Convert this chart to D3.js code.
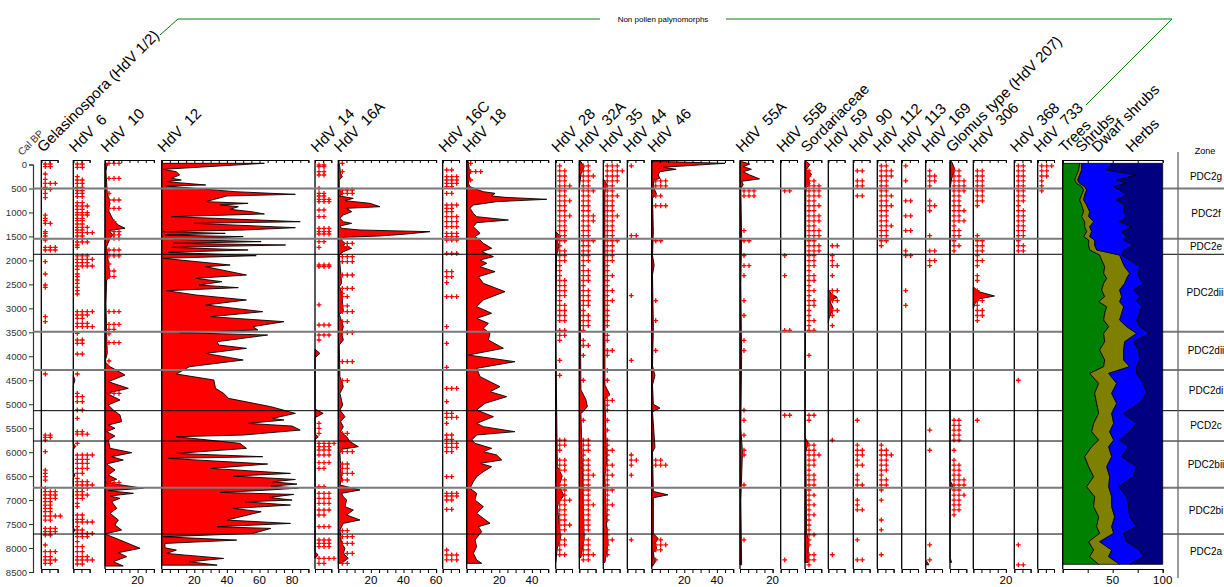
<!DOCTYPE html>
<html>
<head>
<meta charset="utf-8">
<script src="https://cdn.jsdelivr.net/npm/d3@7"></script>
<style>
  body { margin: 0; background: #fff; }
  svg { font-family: "Liberation Sans", Arial, sans-serif; }
</style>
</head>
<body>
<svg id="chart" width="1224" height="587"></svg>
<script>
// ---- zones (cal BP) ----
var zoneBounds = [500, 1550, 1873, 3487, 4287, 5135, 5768, 6742, 7708];
var zoneNames = ["PDC2g", "PDC2f", "PDC2e", "PDC2diii", "PDC2dii", "PDC2di", "PCD2c", "PDC2bii", "PDC2bi", "PDC2a"];
var depthTicks = d3.range(0, 8501, 500);

// ---- curves: [age, percent] ----
var hdv6Curve = [[4400,0],[4500,1],[4600,0],[5820,0],[5880,1.5],[5940,0],[6420,0],[6480,1],[6540,0],[7580,0],[7620,1],[7680,0]];
var hdv10Curve = [[-24,2],[45,1],[149,0.6],[601,1.4],[810,3.1],[949,2],[1158,5.1],[1262,8.2],[1331,12.3],[1380,2],[1470,5.1],[1540,3.1],[1714,1],[2340,3.1],[2409,1],[2896,0.6],[3522,1],[3939,1.4],[4113,0],[4217,3.1],[4391,12.3],[4530,2],[4669,14.3],[4773,1],[4912,9.2],[5016,2],[5121,5.1],[5225,9.2],[5364,10.2],[5434,2],[5503,6.1],[5573,1],[5663,6.1],[5747,2],[5920,3.1],[6011,16.4],[6094,4.1],[6164,11.2],[6247,1],[6372,6.1],[6477,2],[6567,7.2],[6637,1],[6755,23.5],[6803,2],[6859,17.4],[6915,3.1],[6963,9.2],[7033,4.1],[7172,7.2],[7276,3.1],[7415,8.2],[7520,6.1],[7624,10.2],[7707,0],[7833,9.2],[8006,21.5],[8097,8.2],[8180,13.3],[8284,5.1],[8375,11.2]];
var hdv12Curve = [[-25,63],[101,1],[150,9],[219,11],[288,6],[323,12],[358,3],[427,27],[448,3],[567,45],[601,67],[622,82],[657,40],[775,27],[810,53],[845,36],[880,47],[935,42],[984,55],[1032,63],[1088,6],[1123,33],[1193,85],[1227,20],[1318,82],[1366,51],[1401,1],[1436,39],[1471,2],[1505,50],[1561,7],[1609,61],[1644,7],[1679,76],[1728,6],[1783,53],[1832,4],[1902,58],[1957,1],[2096,42],[2131,27],[2305,52],[2375,21],[2444,37],[2514,23],[2569,47],[2632,3],[2722,21],[2826,52],[2930,27],[3070,62],[3174,30],[3278,75],[3382,56],[3452,59],[3508,11],[3557,65],[3696,34],[3766,35],[3835,52],[3940,27],[4078,50],[4218,17],[4370,9],[4495,32],[4669,33],[4773,38],[4878,41],[5052,67],[5191,82],[5296,68],[5330,75],[5400,53],[5456,80],[5540,85],[5643,50],[5678,9],[5817,48],[5921,52],[6026,9],[6095,62],[6130,4],[6248,65],[6339,30],[6443,79],[6500,44],[6570,82],[6618,68],[6667,83],[6709,67],[6750,84],[6792,65],[6840,36],[6882,81],[6945,66],[7000,80],[7035,51],[7104,79],[7174,44],[7243,61],[7417,40],[7487,79],[7556,34],[7591,67],[7695,56],[7765,1],[7835,46],[7904,2],[7995,2],[8043,9],[8113,3],[8217,38],[8287,17],[8357,34]];
var hdv14Curve = [[3850,0],[3940,3],[4030,0],[5100,0],[5190,5],[5280,0],[5620,0],[5680,2],[5740,0],[8080,0],[8145,2],[8210,0]];
var hdv16aCurve = [[-24,0.6],[184,1.4],[254,2.5],[323,0.6],[532,0.6],[601,3.1],[657,0.6],[706,9.2],[754,4.1],[810,19.4],[880,25.6],[914,5.1],[984,8.2],[1053,3.1],[1123,1],[1192,3.1],[1227,8.2],[1283,1],[1331,2],[1366,13.3],[1401,56.2],[1450,41.9],[1491,25.6],[1519,3.1],[1575,2],[1644,4.1],[1700,3.1],[1748,8.2],[1818,3.1],[1888,0.6],[2479,2],[2548,0.6],[2652,2],[3070,3.1],[3118,0.6],[3382,3.1],[3522,2],[3661,3.1],[3765,0.6],[4425,1],[4634,3.1],[4773,1],[5016,2.7],[5121,1],[5260,4.1],[5364,1.4],[5468,3.1],[5573,1.4],[5677,5.1],[5781,7.2],[5886,12.3],[5941,2],[6025,1],[6581,2],[6685,1],[6789,13.3],[6859,2],[6929,3.1],[6998,5.1],[7137,4.1],[7207,9.2],[7311,5.1],[7415,13.3],[7485,3.1],[7624,1],[7902,2],[8006,4.1],[8110,3.1],[8215,6.1],[8319,2]];
var hdv18Curve = [[-59,1],[115,1.6],[323,1.6],[393,1],[462,2],[532,7.2],[567,10.2],[601,17.4],[657,15.3],[685,23.5],[726,49.1],[775,18.4],[845,4.1],[914,2],[1018,4.1],[1088,6.1],[1158,25.6],[1213,6.1],[1297,4.1],[1366,6.1],[1436,8.2],[1505,5.1],[1575,8.2],[1644,10.2],[1748,15.3],[1818,9.2],[1922,16.4],[1992,8.2],[2061,12.3],[2131,8.2],[2235,17.4],[2340,7.2],[2479,10.2],[2652,23.5],[2826,10.2],[2965,6.1],[3104,15.3],[3209,6.1],[3313,13.3],[3417,10.2],[3522,14.3],[3661,13.3],[3834,22.5],[3974,1],[4113,29.6],[4252,6.1],[4425,8.2],[4634,20.4],[4738,14.3],[4843,24.5],[4982,11.2],[5121,6.1],[5260,16.4],[5399,6.1],[5468,10.2],[5573,29.6],[5642,6.1],[5746,3.1],[5816,5.1],[5920,15.3],[5990,10.2],[6059,18.4],[6164,21.5],[6233,8.2],[6303,15.3],[6407,10.2],[6511,6.1],[6616,4.1],[6755,2],[6859,6.1],[6998,5.1],[7137,10.2],[7276,6.1],[7380,10.2],[7485,14.3],[7554,7.2],[7659,9.2],[7832,5.1],[7971,6.1],[8110,4.1],[8249,6.1],[8319,9.2]];
var hdv28Curve = [[1400,0],[1500,3],[1600,1],[1700,2],[1900,0.5],[3500,0],[6300,1],[6500,4],[6700,2],[6900,5],[7100,1],[7800,3],[8000,1],[8300,0]];
var hdv32aCurve = [[-60,1],[50,3],[200,1],[500,0],[4700,1],[4900,4],[5050,5],[5200,1],[6500,2],[7800,3],[8200,1]];
var hdv35Curve = [[300,0],[400,2],[600,1],[4600,1],[4800,4],[4900,1],[6200,2],[6500,1],[7500,2],[7900,3],[8300,1]];
var hdv46Curve = [[-60,8],[-25,45],[58,7],[100,15],[150,5],[219,4],[288,5],[323,1.5],[463,1],[620,3],[700,0.5],[1400,1],[1900,0.5],[2100,1.5],[2300,0.5],[3400,1],[4200,0.5],[4400,2],[4600,0.5],[5000,1],[5080,5],[5160,0.5],[5900,2],[6000,0.5],[6820,1],[6890,10],[6950,1],[7700,1],[7800,4],[7900,2],[8000,3],[8100,1],[8300,2],[8380,0.5]];
var hdv55aCurve = [[-60,1],[-10,6],[45,2],[100,7],[150,2],[219,6],[300,12],[350,1],[420,2],[500,0.5],[1500,1],[2500,0.5],[4000,1],[5500,0.5],[6000,1.5],[7000,0.5],[8350,1]];
var sordCurve = [[-60,1],[0,3],[100,1],[200,4],[300,2],[400,3],[480,1],[600,0.5],[5700,0],[5800,2],[6000,0.5],[7700,1],[7800,2],[8300,2]];
var hdv59Curve = [[2600,0],[2700,2],[2770,5.5],[2850,1],[3000,3],[3200,0.5],[3300,0]];
var glomusCurve = [[-60,1],[100,3],[300,1],[500,0],[6600,0],[6700,2],[6800,0],[8200,0],[8300,1]];
var hdv169Curve = [[8250,0],[8350,2]];
var hdv306Curve = [[2550,0],[2650,3],[2743,13],[2800,4],[2900,1],[3000,0]];

// ---- "+" markers on listed ages: [age, count] ----
var gelasPlus = [[-10,2],[45,2],[198,1],[309,1],[393,3],[476,1],[518,2],[601,1],[692,1],[1054,1],[1123,1],[1172,1],[1227,2],[1401,1],[1436,1],[1491,1],[1575,1],[1728,3],[1783,3],[2027,1],[2284,1],[2514,1],[2563,1],[3175,1],[3279,1],[4370,1],[5643,2],[5692,2],[5748,1],[5991,1],[6373,1],[6443,1],[6512,1],[6582,1],[6755,1],[6825,3],[6894,3],[6964,3],[7033,2],[7103,2],[7172,2],[7242,2],[7332,4],[7416,2],[7590,3],[7659,3],[7728,2],[7937,1],[8076,3],[8181,2],[8250,3],[8320,2]];
var hdv6Plus = [[-10,2],[59,2],[254,1],[323,2],[393,2],[476,2],[546,2],[601,2],[671,2],[796,2],[866,3],[935,2],[1005,3],[1053,3],[1123,2],[1172,2],[1241,2],[1311,3],[1366,2],[1422,4],[1491,2],[1547,2],[1617,3],[1679,1],[1728,1],[1908,3],[1978,4],[2048,3],[2117,4],[2187,1],[2284,1],[2340,1],[2409,1],[2479,1],[2562,1],[2632,1],[2701,1],[3070,4],[3139,3],[3209,2],[3313,3],[3383,4],[3522,1],[3661,2],[3730,2],[3953,2],
  [4370,1],[4773,1],[4843,2],[4947,2],[5121,2],[5295,1],[5573,2],[5622,3],[5816,1],[6060,4],[6150,3],[6233,3],[6338,3],[6442,2],[6546,1],[6616,3],[6685,4],[6755,3],[6825,2],[6894,3],[6964,2],[7068,1],[7137,1],[7311,2],[7401,2],[7457,4],[7555,1],[7624,2],[7694,4],[7763,3],[7867,1],[7972,2],[8076,2],[8180,3],[8250,4],[8333,2]];
var hdv10Plus = [[-24,3],[288,3],[601,1],[740,3],[914,3],[1192,2],[1401,3],[1470,3],[1540,3],[1783,3],[1908,3],[2075,1],[2221,2],[2340,2],[3070,3],[3334,3],[3438,2],[3535,1],[3716,3],[4099,1],[4773,3],[6636,3]];
var hdv14Plus = [[10,2],[45,2],[149,2],[219,2],[497,1],[601,2],[657,2],[726,3],[775,3],[949,2],[1088,2],[1331,3],[1401,3],[1450,3],[1609,2],[1728,1],[2096,3],[2131,3],[2930,1],[3348,3],[3556,3],[3661,1],[5399,1],[5503,1],[5608,1],[5816,4],[5886,3],[5955,3],[6059,3],[6219,3],[6338,2],[6720,2],[6859,3],[6963,3],[7068,3],[7207,3],[7311,2],[7554,3],[7832,3],[7902,3],[7971,3],[8215,4],[8319,2]];
var hdv16aPlus = [[-24,1],[149,1],[532,3],[601,3],[1644,3],[1714,2],[1922,3],[2027,3],[2305,3],[2583,3],[2687,1],[2757,2],[2951,2],[3070,3],[3278,2],[3508,3],[4113,3],[4509,2],[5608,2],[5990,3],[6247,2],[6338,2],[6442,3],[6581,2],[7638,2],[7763,3],[7902,3],[8110,3],[8319,2]];
var hdv16cPlus = [[115,2],[254,3],[323,3],[393,3],[462,2],[601,2],[845,3],[914,2],[984,2],[1088,3],[1192,3],[1297,3],[1436,3],[1505,3],[1575,3],[1853,3],[2235,2],[2340,2],[2465,1],[2757,3],[3382,1],[3730,1],[4231,1],[4669,3],[4947,1],[5190,2],[5274,3],[5399,1],[5642,2],[5733,2],[5816,3],[5899,3],[5990,2],[6511,2],[6859,3],[6915,3],[6998,2],[7193,2],[8041,1],[8145,3],[8249,3]];
var hdv18Plus = [[-24,1],[149,3],[323,1]];

// ---- "+" markers on the regular sample rows ----
var sampleAges = [30,135,240,340,445,550,655,760,860,965,1070,1175,1280,1380,1485,1590,1695,1800,1900,2005,2110,2215,2320,2420,2525,2630,2735,2840,2940,3045,3150,3255,3360,3460,3565,3670,3775,3880,3980,4085,4190,4295,4400,4500,4605,4710,4815,4920,5020,5125,5230,5335,5440,5540,5645,5750,5855,5960,6060,6165,6270,6375,6480,6580,6685,6790,6895,7000,7100,7205,7310,7415,7520,7620,7725,7830,7935,8040,8140,8245,8350];
var hdv28Plus = [1,2,2,2,3,2,2,3,2,2,3,2,2,2,2,2,1,2,2,2,1,1,1,2,2,2,2,1,2,2,2,2,0,2,2,1,0,0,0,1,0,0,1,0,0,0,0,0,0,0,0,0,0,0,0,2,2,1,0,2,2,2,1,2,2,2,2,3,2,2,2,2,3,2,1,2,2,1,2,0,0];
var hdv32aPlus = [2,2,3,2,2,3,2,2,2,2,3,3,2,2,2,3,2,2,2,2,1,2,2,2,1,2,2,2,2,1,2,2,2,1,0,1,2,0,1,0,0,0,0,1,0,0,0,0,0,0,0,1,0,0,0,2,2,2,1,2,2,2,3,2,2,2,2,2,3,2,2,2,2,2,1,2,2,2,3,2,0];
var hdv35Plus = [3,4,3,3,2,2,3,2,2,2,3,2,2,2,2,3,2,2,2,2,1,1,2,1,1,2,1,2,1,1,1,1,1,0,1,1,0,2,1,0,0,1,0,1,0,0,1,2,1,1,0,1,0,1,0,1,1,2,1,1,2,1,2,1,1,2,1,1,2,1,1,1,0,1,1,2,1,1,1,0,0];
var hdv44Plus = [1,0,0,0,0,0,0,0,0,0,0,0,0,0,2,0,0,0,0,0,0,0,0,0,0,0,1,0,0,0,0,0,0,0,0,0,0,0,0,1,0,0,0,0,0,0,0,0,0,0,0,0,0,0,0,0,0,0,1,2,1,0,1,0,0,0,0,0,0,0,0,0,0,0,0,1,0,0,0,0,0];
var hdv46Plus = [0,0,0,3,3,0,2,0,3,0,0,0,0,0,0,2,0,0,0,0,0,0,0,0,0,0,0,1,0,0,0,1,0,0,0,0,0,1,0,0,0,0,0,0,0,0,0,0,0,0,0,0,0,0,0,0,0,0,0,2,3,0,0,0,0,0,0,0,0,0,0,0,0,0,0,2,3,2,0,1,0];
var hdv55aPlus = [0,0,0,0,0,3,3,0,0,0,0,0,0,1,0,2,0,0,1,0,2,0,1,0,0,0,0,1,0,0,1,0,0,0,0,1,0,1,0,0,0,0,0,0,0,0,0,0,0,1,0,1,0,0,1,0,0,1,1,0,0,0,0,0,1,0,0,0,0,0,0,0,0,0,0,1,0,0,0,0,0];
var hdv55bPlus = [0,0,0,0,0,2,0,0,0,0,0,0,0,0,0,0,0,0,1,0,0,0,1,0,0,0,0,0,0,0,0,0,0,2,0,0,0,0,0,0,0,0,0,0,0,0,0,0,0,0,2,0,0,0,0,0,0,0,0,0,0,0,0,0,0,0,0,0,0,0,0,0,0,0,0,0,0,0,0,1,0];
var sordPlus = [0,1,1,2,3,3,3,2,3,2,3,3,2,3,3,2,3,3,2,2,2,1,2,2,1,2,1,2,2,1,1,2,1,2,0,0,0,0,1,0,0,0,0,0,0,0,0,0,0,0,2,1,0,0,0,0,2,2,3,2,2,1,2,2,2,1,2,1,2,1,2,1,1,1,2,1,1,0,2,2,1];
var hdv59Plus = [0,0,0,0,0,0,0,0,0,0,0,0,0,0,0,0,2,0,1,1,2,0,1,0,0,2,1,2,0,2,1,0,1,0,0,0,0,0,0,0,0,0,0,0,0,0,0,0,0,0,0,0,0,0,0,1,0,0,0,0,0,0,0,0,0,0,0,0,0,0,0,0,0,0,0,0,0,0,1,0,0];
var hdv90Plus = [0,2,0,2,2,0,2,0,0,0,0,0,0,0,0,0,0,0,0,0,0,0,0,0,0,0,0,0,0,0,0,0,0,0,0,0,0,0,0,0,0,0,0,0,0,0,0,0,0,0,0,1,0,0,0,0,1,2,2,1,2,0,1,1,2,0,0,1,1,2,0,0,0,0,0,1,0,0,0,2,0];
var hdv112Plus = [2,3,3,2,2,2,3,2,3,2,2,2,3,2,2,2,1,0,0,0,0,0,0,0,0,0,0,0,0,0,0,0,0,0,0,0,0,0,0,0,0,0,0,0,0,0,0,0,0,0,0,0,0,0,0,0,1,2,3,2,2,2,1,2,2,1,0,1,0,0,0,1,0,1,0,0,0,0,1,0,0];
var hdv113Plus = [1,0,0,1,0,0,0,2,0,0,2,0,0,2,0,0,0,1,2,0,0,0,0,0,0,1,0,0,1,0,0,0,0,0,0,0,0,0,0,0,0,0,0,0,0,0,0,0,0,0,0,0,0,0,0,0,0,0,0,0,0,0,0,0,0,0,0,0,0,0,0,0,0,0,0,0,0,0,0,0,0];
var hdv169Plus = [0,1,2,2,1,0,0,1,2,1,0,0,0,0,1,0,0,2,0,2,1,0,0,0,0,0,0,0,0,0,0,0,0,0,0,0,0,0,0,0,0,0,0,0,0,0,0,0,0,0,0,0,0,1,0,0,0,1,0,0,0,0,0,0,0,0,0,0,0,0,0,0,0,0,0,0,1,0,0,1,0];
var glomusPlus = [0,2,2,3,3,3,2,2,2,3,2,3,1,2,2,1,2,1,0,0,0,0,0,0,0,0,0,0,0,0,0,0,0,0,0,0,0,0,0,0,0,0,0,0,0,0,0,0,0,0,0,2,2,2,2,2,0,1,0,1,2,2,2,3,3,2,3,2,2,2,1,0,0,0,0,0,0,0,0,0,0];
var hdv306Plus = [0,2,2,2,2,2,2,2,1,0,0,0,0,0,1,2,2,2,1,2,1,0,1,1,0,1,2,2,1,2,2,1,0,0,0,0,0,0,0,0,0,0,0,0,0,0,0,0,0,0,0,1,0,0,0,0,0,0,0,0,0,0,0,0,0,0,0,0,0,0,0,0,0,0,0,0,0,0,0,0,0];
var hdv368Plus = [2,2,2,2,2,2,2,2,1,2,2,2,2,2,2,1,2,2,0,0,0,0,0,0,0,0,0,0,0,0,0,0,0,0,0,0,0,0,0,0,0,0,0,1,0,0,0,0,0,0,0,0,0,0,0,0,0,0,0,0,0,0,0,0,0,0,0,0,0,0,0,0,0,0,0,0,1,0,0,0,2];
var hdv733Plus = [3,2,2,1,1,1,0,0,0,0,0,0,0,0,0,0,0,0,0,0,0,0,0,0,0,0,0,0,0,0,0,0,0,0,0,0,0,0,0,0,0,0,0,0,0,0,0,0,0,0,0,0,0,0,0,0,0,0,0,0,0,0,0,0,0,0,0,0,0,0,0,0,0,0,0,0,0,0,0,0,0];

// ---- pollen groups (percent of total) ----
var groupAges = [-24,115,219,323,393,462,532,636,741,845,984,1088,1192,1297,1401,1505,1575,1680,1783,1888,1992,2131,2270,2375,2479,2618,2757,2862,2966,3105,3244,3383,3522,3696,3870,4078,4217,4357,4565,4774,4983,5191,5400,5574,5748,5887,6095,6303,6512,6720,6929,7138,7346,7555,7694,7868,8042,8181,8340];
var trees  = [17,16,14,12,14,19,21,19,17,19,21,19,22,22,24,21,26,26,27,37,39,42,41,44,41,39,42,36,44,42,41,46,41,42,37,42,41,27,36,32,34,36,31,29,36,29,22,26,31,24,32,31,36,34,37,26,31,27,36];
var shrubs = [2,3,3,3,3,3,3,3,4,5,6,7,9,5,5,6,6,6,7,20,20,20,26,20,21,18,17,21,17,17,16,18,33,20,24,19,26,19,18,17,20,13,20,18,15,17,27,18,16,22,17,18,16,15,14,11,18,19,21];
var dwarf  = [30,25,57,39,47,29,33,42,33,38,34,38,26,42,30,37,29,39,28,2,8,15,9,13,19,14,18,17,18,18,17,13,13,9,15,16,7,28,27,35,23,12,23,20,6,20,10,30,24,10,15,17,15,25,10,27,28,35,10];
var herbs  = [51,56,26,46,36,49,43,36,46,38,39,36,43,31,41,36,39,29,38,41,33,23,24,23,19,29,23,26,21,23,26,23,13,29,24,23,26,26,19,16,23,39,26,33,43,34,41,26,29,44,36,34,33,26,39,36,23,19,33];

// ---- layout ----
var K = 1.63;              // px per percent
var topY = 160, botY = 569;
var y = d3.scaleLinear().domain([0, 8500]).range([164.5, 572]);
var ageBot = y.invert(botY);

var panels = [
  { label: "Gelasinospora (HdV 1/2)", left: 41.3, max: 10, plus: gelasPlus },
  { label: "HdV  6", left: 73.3, max: 10, curve: hdv6Curve, plus: hdv6Plus },
  { label: "HdV  10", left: 105, max: 30, curve: hdv10Curve, plus: hdv10Plus },
  { label: "HdV  12", left: 161.7, max: 90, curve: hdv12Curve },
  { label: "HdV  14", left: 315, max: 10, curve: hdv14Curve, plus: hdv14Plus },
  { label: "HdV  16A", left: 338.3, max: 60, curve: hdv16aCurve, plus: hdv16aPlus },
  { label: "HdV  16C", left: 442.7, max: 10, plus: hdv16cPlus },
  { label: "HdV  18", left: 466.7, max: 50, curve: hdv18Curve, plus: hdv18Plus },
  { label: "HdV  28", left: 555.7, max: 10, curve: hdv28Curve, rows: hdv28Plus },
  { label: "HdV  32A", left: 579.3, max: 10, curve: hdv32aCurve, rows: hdv32aPlus },
  { label: "HdV  35", left: 603.3, max: 10, curve: hdv35Curve, rows: hdv35Plus },
  { label: "HdV  44", left: 627.3, max: 10, rows: hdv44Plus },
  { label: "HdV  46", left: 651.7, max: 50, curve: hdv46Curve, rows: hdv46Plus },
  { label: "HdV  55A", left: 740, max: 20, curve: hdv55aCurve, rows: hdv55aPlus },
  { label: "HdV  55B", left: 780.7, max: 10, rows: hdv55bPlus },
  { label: "Sordariaceae", left: 805, max: 10, curve: sordCurve, rows: sordPlus },
  { label: "HdV  59", left: 828.3, max: 10, curve: hdv59Curve, rows: hdv59Plus },
  { label: "HdV  90", left: 853.3, max: 10, rows: hdv90Plus },
  { label: "HdV  112", left: 877.3, max: 10, rows: hdv112Plus },
  { label: "HdV  113", left: 901.7, max: 10, rows: hdv113Plus },
  { label: "HdV  169", left: 925.7, max: 10, curve: hdv169Curve, rows: hdv169Plus },
  { label: "Glomus type (HdV 207)", left: 950, max: 10, curve: glomusCurve, rows: glomusPlus },
  { label: "HdV  306", left: 973.3, max: 20, curve: hdv306Curve, rows: hdv306Plus },
  { label: "HdV  368", left: 1014.3, max: 10, rows: hdv368Plus },
  { label: "HdV  733", left: 1037.7, max: 10, rows: hdv733Plus }
];

var svg = d3.select("#chart");

// depth axis
svg.append("g")
  .attr("transform", "translate(33,0)")
  .call(d3.axisLeft(y).tickValues(depthTicks).tickSize(4).tickPadding(2).tickFormat(d3.format("d")))
  .call(function (g) {
    g.select(".domain").attr("stroke", "#333").attr("stroke-width", 1.2);
    g.selectAll(".tick line").attr("stroke", "#333");
    g.selectAll("text").attr("font-size", 9.5).attr("fill", "#333").attr("font-family", "Liberation Sans, Arial, sans-serif");
  });
svg.append("text").attr("transform", "translate(22,156) rotate(-45)")
  .attr("font-size", 10).attr("fill", "#333").text("Cal BP");

// panels
var area = d3.area().curve(d3.curveLinear);
var plusPath = "M-2.4,0H2.4M0,-2.4V2.4";

panels.forEach(function (p) {
  var x = d3.scaleLinear().domain([0, p.max]).range([p.left, p.left + p.max * K]);
  var g = svg.append("g");

  if (p.curve) {
    var pts = [[p.curve[0][0], 0]].concat(p.curve, [[p.curve[p.curve.length - 1][0], 0]]);
    g.append("path").datum(pts)
      .attr("d", area.y(function (d) { return y(d[0]); }).x0(x(0)).x1(function (d) { return x(d[1]); }))
      .attr("fill", "#ff0000").attr("stroke", "#000").attr("stroke-width", 0.9).attr("stroke-linejoin", "round");
  }

  var marks = [];
  if (p.plus) p.plus.forEach(function (d) { marks.push(d); });
  if (p.rows) p.rows.forEach(function (c, i) { if (c > 0 && i < sampleAges.length) marks.push([sampleAges[i], c]); });
  marks.forEach(function (d) {
    for (var j = 0; j < d[1]; j++) {
      g.append("path").attr("d", plusPath)
        .attr("transform", "translate(" + (p.left + 4 + j * 5) + "," + y(d[0]) + ")")
        .attr("stroke", "#ff0000").attr("stroke-width", 1.3).attr("fill", "none");
    }
  });

  // axes
  g.append("line").attr("x1", p.left).attr("x2", p.left).attr("y1", topY).attr("y2", botY)
    .attr("stroke", "#000").attr("stroke-width", 1.3);
  var ticks = d3.range(0, p.max + 0.01, 5);
  [topY, botY].forEach(function (yy) {
    g.append("g").attr("transform", "translate(0," + yy + ")")
      .call(d3.axisBottom(x).tickValues(ticks).tickSize(yy === topY ? 3 : 4).tickFormat(""))
      .call(function (a) { a.select(".domain").attr("stroke-width", 1); });
  });
  g.selectAll(null).data(ticks.filter(function (t) { return t > 0 && t % 20 === 0; }))
    .enter().append("text")
    .attr("x", function (t) { return x(t); }).attr("y", 584)
    .attr("text-anchor", "middle").attr("font-size", 11.5).text(function (t) { return t; });

  svg.append("text")
    .attr("transform", "translate(" + (p.left + 2) + ",153) rotate(-45)")
    .attr("font-size", 15).style("white-space", "pre").text(p.label);
});

// zone lines
zoneBounds.forEach(function (b, i) {
  var gray = [0, 1, 3, 4, 7].indexOf(i) >= 0;
  svg.append("line").attr("x1", 33).attr("x2", 1224).attr("y1", y(b)).attr("y2", y(b))
    .attr("stroke", gray ? "#7a7a7a" : "#000").attr("stroke-width", gray ? 2 : 1);
});

// pollen groups panel
var gx = d3.scaleLinear().domain([0, 100]).range([1062.7, 1162.7]);
var groupRows = groupAges.map(function (a, i) {
  return { age: a, Trees: trees[i], Shrubs: shrubs[i], Dwarf: dwarf[i], Herbs: herbs[i] };
});
var keys = ["Trees", "Shrubs", "Dwarf", "Herbs"];
var colors = { Trees: "#008000", Shrubs: "#808000", Dwarf: "#0000ff", Herbs: "#000080" };
var stacked = d3.stack().keys(keys)(groupRows);
var gArea = d3.area()
  .y(function (d) { return y(d.data.age); })
  .x0(function (d) { return gx(d[0]); })
  .x1(function (d) { return gx(d[1]); });
svg.append("g").selectAll("path").data(stacked).enter().append("path")
  .attr("d", gArea)
  .attr("fill", function (s) { return colors[s.key]; })
  .attr("stroke", "#000").attr("stroke-width", 0.8).attr("stroke-linejoin", "round");
svg.append("line").attr("x1", gx(0)).attr("x2", gx(0)).attr("y1", topY).attr("y2", botY)
  .attr("stroke", "#000").attr("stroke-width", 1.3);
[topY, botY].forEach(function (yy) {
  svg.append("g").attr("transform", "translate(0," + yy + ")")
    .call(d3.axisBottom(gx).tickValues([0, 25, 50, 75, 100]).tickSize(yy === topY ? 3 : 4).tickFormat(""));
});
[50, 100].forEach(function (t) {
  svg.append("text").attr("x", gx(t)).attr("y", 584).attr("text-anchor", "middle")
    .attr("font-size", 11.5).text(t);
});
var groupLabels = [["Trees", 1065], ["Shrubs", 1081.7], ["Dwarf shrubs", 1097.7], ["Herbs", 1131.7]];
groupLabels.forEach(function (l) {
  svg.append("text").attr("transform", "translate(" + l[1] + ",153) rotate(-45)")
    .attr("font-size", 15).text(l[0]);
});

// zone column
svg.append("line").attr("x1", 1178).attr("x2", 1178).attr("y1", 152).attr("y2", 578)
  .attr("stroke", "#666").attr("stroke-width", 1.3);
svg.append("text").attr("x", 1205).attr("y", 154).attr("text-anchor", "middle")
  .attr("font-size", 9).text("Zone");
var edges = [0].concat(zoneBounds, [ageBot]);
zoneNames.forEach(function (n, i) {
  svg.append("text").attr("x", 1206).attr("y", y((edges[i] + edges[i + 1]) / 2) + 3.5)
    .attr("text-anchor", "middle").attr("font-size", 10).text(n);
});

// group bracket
svg.append("polyline").attr("points", "160,35 178,19 600,19").attr("fill", "none").attr("stroke", "#008000");
svg.append("polyline").attr("points", "726,19 1172,19 1086,105").attr("fill", "none").attr("stroke", "#008000");
svg.append("text").attr("x", 663).attr("y", 22).attr("text-anchor", "middle").attr("font-size", 8)
  .text("Non pollen palynomorphs");
</script>
</body>
</html>
